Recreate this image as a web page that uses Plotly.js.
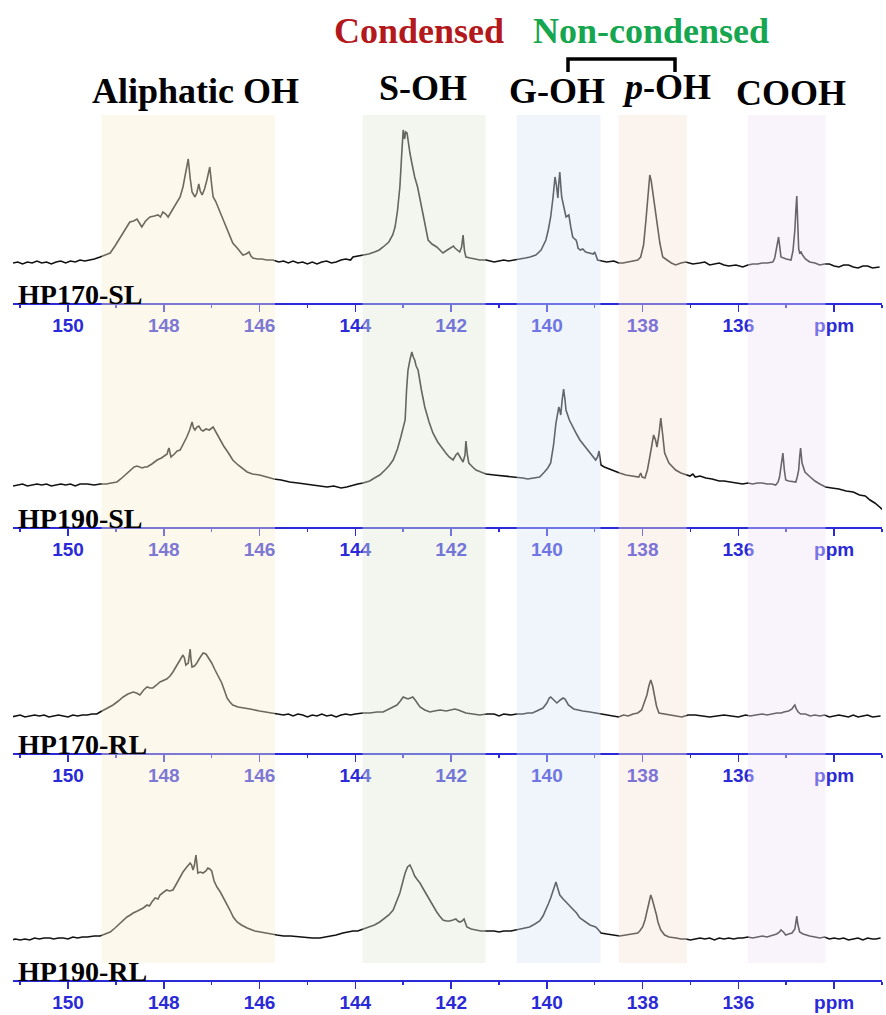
<!DOCTYPE html>
<html><head><meta charset="utf-8">
<script src="https://cdn.plot.ly/plotly-3.0.1.min.js"></script>
<style>html,body{margin:0;padding:0;background:#fff}#chart{width:886px;height:1015px}</style>
</head><body><div id="chart"></div>
<script>
// ---------- data ----------
const sampleNames = ['HP170-SL', 'HP190-SL', 'HP170-RL', 'HP190-RL'];

const ppm1 = [151.15,151.05,150.95,150.85,150.75,150.65,150.55,150.45,150.35,150.25,150.15,150.05,149.95,149.85,149.75,149.65,149.55,149.45,149.33,149.22,149.12,149.02,148.91,148.81,148.71,148.63,148.56,148.51,148.46,148.38,148.29,148.2,148.12,148.07,148.02,147.96,147.91,147.86,147.81,147.74,147.66,147.6,147.56,147.52,147.49,147.45,147.41,147.35,147.31,147.27,147.24,147.20,147.15,147.10,147.04,147.0,146.97,146.92,146.87,146.78,146.68,146.62,146.56,146.45,146.35,146.28,146.22,146.18,146.14,146.05,145.95,145.85,145.72,145.6,145.5,145.4,145.3,145.2,145.1,145.0,144.9,144.8,144.7,144.6,144.5,144.4,144.3,144.2,144.1,144.05,143.95,143.84,143.72,143.6,143.5,143.42,143.3,143.22,143.17,143.12,143.07,143.03,143.0,142.97,142.95,142.92,142.89,142.86,142.82,142.76,142.7,142.61,142.55,142.48,142.4,142.30,142.24,142.17,142.08,142.0,141.95,141.92,141.86,141.82,141.78,141.75,141.72,141.69,141.6,141.5,141.4,141.27,141.18,141.1,141.0,140.9,140.8,140.65,140.55,140.45,140.35,140.23,140.12,140.02,139.97,139.92,139.87,139.83,139.80,139.77,139.75,139.73,139.71,139.69,139.64,139.60,139.57,139.54,139.5,139.46,139.42,139.39,139.37,139.35,139.3,139.25,139.19,139.1,139.03,139.0,138.97,138.94,138.85,138.75,138.6,138.5,138.41,138.3,138.2,138.1,138.04,137.98,137.93,137.89,137.85,137.82,137.80,137.77,137.74,137.72,137.7,137.68,137.64,137.58,137.5,137.4,137.31,137.2,137.1,136.95,136.81,136.7,136.6,136.5,136.4,136.3,136.2,136.05,135.91,135.8,135.7,135.6,135.5,135.4,135.28,135.24,135.22,135.18,135.16,135.13,135.11,135.0,134.90,134.86,134.82,134.8,134.78,134.76,134.74,134.72,134.69,134.66,134.6,134.51,134.4,134.3,134.2,134.1,134.0,133.9,133.8,133.7,133.6,133.5,133.4,133.3,133.2,133.05];
const int1 = [0,1,-1,1,0,2,0,1,-1,1,2,0,2,1,3,2,3,4,6,8,10,17,26,33,41,42,44,40,36,42,46,47,48,46,51,49,46,50,54,60,66,76,86,96,104,85,71,66,70,79,72,68,74,83,96,78,66,62,56,46,33,26,20,14,8,9,11,7,5,4,4,3,3,1,2,0,2,0,1,-1,1,-1,1,2,0,1,3,4,3,6,7,8,9,11,13,16,21,28,36,52,76,110,133,124,131,130,118,110,100,86,76,56,40,23,19,16,13,10,13,16,17,15,12,11,16,28,12,6,5,4,3,3,2,1,2,3,2,3,4,5,6,8,13,23,33,46,66,86,78,65,80,91,78,66,55,46,47,48,36,26,24,23,20,15,13,14,11,10,9,11,6,3,2,1,2,0,0,1,2,3,6,18,43,70,88,82,75,63,58,50,44,36,20,6,3,0,-2,0,1,-1,0,1,-2,-1,0,-2,-3,-2,-4,-2,-1,-1,0,0,1,5,11,22,26,14,6,4,3,12,33,52,67,40,14,10,11,8,4,1,0,-2,-1,-1,-3,-4,-2,-2,-4,-5,-3,-3,-5,-4];

const ppm2 = [151.15,151.05,150.95,150.85,150.75,150.65,150.55,150.45,150.35,150.25,150.15,150.05,149.95,149.85,149.75,149.6,149.45,149.33,149.2,149.1,148.98,148.9,148.8,148.7,148.62,148.56,148.5,148.45,148.4,148.35,148.25,148.14,148.05,147.98,147.93,147.91,147.89,147.87,147.85,147.78,147.72,147.66,147.6,147.52,147.46,147.41,147.38,147.35,147.31,147.27,147.22,147.18,147.12,147.05,146.97,146.9,146.83,146.75,146.65,146.56,146.45,146.35,146.26,146.15,146.0,145.85,145.7,145.55,145.37,145.2,145.05,144.9,144.75,144.59,144.45,144.3,144.18,144.05,143.95,143.84,143.7,143.6,143.49,143.38,143.3,143.21,143.12,143.05,142.99,142.96,142.93,142.90,142.86,142.82,142.79,142.76,142.73,142.69,142.62,142.55,142.46,142.38,142.28,142.17,142.11,142.04,141.96,141.9,141.86,141.8,141.75,141.71,141.69,141.66,141.63,141.55,141.48,141.38,141.27,141.1,140.9,140.8,140.65,140.5,140.4,140.3,140.15,140.05,139.98,139.92,139.86,139.81,139.78,139.75,139.73,139.71,139.68,139.65,139.62,139.60,139.53,139.46,139.38,139.31,139.2,139.10,139.04,138.98,138.94,138.91,138.89,138.87,138.8,138.7,138.6,138.48,138.35,138.2,138.08,138.04,138.01,137.95,137.9,137.85,137.8,137.77,137.73,137.70,137.66,137.62,137.58,137.54,137.45,137.38,137.31,137.2,137.1,137.01,136.95,136.9,136.8,136.68,136.55,136.4,136.3,136.15,136.0,135.91,135.8,135.7,135.6,135.5,135.4,135.3,135.22,135.17,135.14,135.1,135.07,135.04,135.01,134.95,134.86,134.80,134.77,134.74,134.72,134.70,134.67,134.63,134.61,134.5,134.4,134.3,134.18,134.05,133.9,133.75,133.6,133.47,133.35,133.25,133.15,133.05,132.98];
const int2 = [-1,0,1,-1,0,1,0,1,-1,0,1,0,1,-1,1,1,0,1,1,2,3,6,10,14,18,19,18,17,18,18,21,25,27,29,31,35,37,32,28,31,34,35,40,48,55,63,57,55,58,59,55,54,56,55,58,52,45,39,32,25,20,16,13,11,10,8,6,5,3,2,1,0,-1,-2,-1,-3,-2,0,1,2,4,7,10,15,19,25,36,48,60,65,95,115,125,133,128,125,119,115,95,78,63,52,43,35,32,28,25,30,32,27,23,30,44,30,22,18,15,13,11,10,9,9,8,7,6,7,8,13,17,22,40,62,70,78,75,70,85,96,85,75,65,58,51,45,38,32,28,25,28,34,27,20,18,16,14,12,10,9,8,12,8,7,15,28,42,50,45,38,50,67,50,32,22,18,15,12,10,9,11,8,9,7,6,4,4,3,2,1,2,1,2,2,1,1,0,3,8,20,32,15,5,4,3,3,8,15,28,37,22,16,13,8,4,1,-2,-3,-4,-6,-7,-10,-11,-15,-18,-22,-25];

const ppm3 = [151.19,151.1,151.0,150.9,150.8,150.7,150.6,150.5,150.4,150.3,150.2,150.1,150.0,149.9,149.8,149.7,149.6,149.5,149.4,149.33,149.2,149.06,148.95,148.85,148.75,148.64,148.57,148.5,148.42,148.35,148.29,148.23,148.15,148.08,147.94,147.87,147.81,147.74,147.66,147.6,147.57,147.54,147.49,147.47,147.45,147.43,147.41,147.36,147.31,147.25,147.18,147.12,147.08,147.0,146.93,146.86,146.79,146.73,146.68,146.62,146.56,146.45,146.3,146.2,146.0,145.85,145.75,145.64,145.5,145.4,145.3,145.2,145.1,145.0,144.9,144.8,144.7,144.6,144.5,144.4,144.3,144.2,144.1,144.0,143.84,143.7,143.55,143.42,143.3,143.2,143.13,143.06,143.0,142.95,142.90,142.85,142.80,142.75,142.7,142.65,142.55,142.44,142.35,142.23,142.1,142.0,141.92,141.85,141.75,141.69,141.55,141.4,141.25,141.1,141.0,140.9,140.75,140.63,140.5,140.4,140.3,140.2,140.08,140.0,139.95,139.92,139.86,139.79,139.72,139.66,139.62,139.55,139.44,139.35,139.25,139.1,138.96,138.85,138.7,138.6,138.50,138.4,138.3,138.2,138.1,138.02,137.97,137.91,137.87,137.83,137.79,137.75,137.71,137.66,137.55,137.4,137.3,137.18,137.05,136.9,136.75,136.6,136.45,136.3,136.15,136.0,135.85,135.75,135.64,135.5,135.4,135.3,135.2,135.1,135.05,134.95,134.88,134.84,134.82,134.79,134.75,134.70,134.6,134.5,134.4,134.3,134.2,134.1,134.0,133.9,133.8,133.7,133.6,133.5,133.4,133.3,133.2,133.1,133.03];
const int3 = [-1,0,1,-1,0,1,0,1,-1,0,1,0,-1,1,0,1,1,2,2,4,7,11,15,19,22,24,23,21,26,29,28,28,31,34,37,40,44,50,56,61,58,51,53,60,67,55,49,50,53,58,63,62,59,53,46,40,33,25,18,14,11,9,8,7,5,4,3,2,1,2,0,2,1,-1,1,0,2,0,1,-1,1,2,1,2,3,3,4,4,7,9,11,15,19,18,17,18,19,16,12,9,6,4,5,6,5,6,7,6,4,3,2,1,2,2,0,2,1,2,2,3,3,5,8,13,18,19,16,13,16,18,17,11,7,6,5,4,3,2,1,0,-1,1,0,2,3,6,12,21,30,36,30,19,10,3,2,1,0,-1,1,1,0,-1,0,1,0,-1,1,0,1,2,1,2,3,3,4,5,7,10,11,7,4,2,2,0,1,0,1,-1,0,1,0,-1,1,-1,0,1,-1,0,0];

const ppm4 = [151.19,151.1,151.0,150.9,150.8,150.7,150.6,150.5,150.38,150.3,150.2,150.1,150.0,149.9,149.8,149.7,149.6,149.45,149.33,149.22,149.12,149.02,148.91,148.84,148.77,148.7,148.64,148.55,148.43,148.35,148.3,148.25,148.18,148.12,148.08,148.0,147.94,147.88,147.81,147.75,147.66,147.6,147.52,147.45,147.42,147.39,147.36,147.33,147.31,147.29,147.24,147.18,147.12,147.08,147.04,147.0,146.95,146.89,146.82,146.76,146.7,146.62,146.55,146.47,146.38,146.26,146.1,145.95,145.85,145.75,145.64,145.5,145.35,145.16,145.0,144.9,144.74,144.6,144.5,144.4,144.26,144.15,144.05,143.95,143.84,143.7,143.6,143.49,143.4,143.3,143.21,143.14,143.07,143.01,142.96,142.91,142.86,142.81,142.76,142.7,142.65,142.58,142.51,142.44,142.38,142.3,142.24,142.17,142.1,142.03,141.96,141.90,141.86,141.82,141.77,141.73,141.7,141.67,141.58,141.48,141.38,141.27,141.1,141.0,140.9,140.75,140.65,140.5,140.36,140.25,140.15,140.08,140.02,139.97,139.92,139.86,139.81,139.78,139.73,139.66,139.60,139.53,139.46,139.38,139.31,139.25,139.19,139.1,139.04,138.98,138.92,138.87,138.75,138.6,138.48,138.35,138.2,138.1,138.06,138.0,137.95,137.91,137.89,137.86,137.83,137.8,137.75,137.71,137.68,137.62,137.54,137.45,137.3,137.2,137.1,137.0,136.9,136.8,136.7,136.6,136.5,136.4,136.3,136.2,136.1,136.0,135.91,135.8,135.7,135.6,135.5,135.4,135.28,135.2,135.14,135.11,135.06,135.01,134.95,134.88,134.82,134.8,134.78,134.76,134.72,134.65,134.6,134.51,134.4,134.3,134.2,134.1,134.0,133.9,133.8,133.7,133.6,133.5,133.4,133.3,133.2,133.13,133.03];
const int4 = [-1,0,-1,0,-1,1,0,1,1,0,1,1,0,2,1,2,2,3,3,5,7,11,16,19,22,24,26,28,31,34,33,37,41,40,44,47,49,48,49,54,62,67,72,76,74,69,74,84,76,66,67,66,68,71,70,68,58,52,47,42,36,29,22,17,14,11,8,7,6,5,4,3,3,2,1,1,1,2,3,4,6,7,8,8,10,12,14,17,20,24,29,37,46,57,66,72,74,69,63,59,56,50,44,38,33,27,23,19,18,18,19,20,18,17,18,20,16,12,10,9,8,8,8,7,8,8,9,10,12,15,18,23,29,35,41,50,57,52,44,40,37,34,31,26,21,19,17,14,13,12,9,6,5,4,3,4,5,6,8,12,19,28,34,40,44,40,32,24,17,9,4,2,1,0,0,-1,0,1,0,1,-1,1,0,1,0,1,1,2,1,2,3,2,4,5,7,9,7,4,5,6,10,16,23,15,7,5,4,3,2,1,2,0,1,0,1,-1,0,1,-1,1,0,0,1];

const bandNames  = ['Aliphatic OH', 'S-OH', 'G-OH', 'p-OH', 'COOH'];
const bandStart  = [149.30, 143.85, 140.63, 138.50, 135.80];
const bandEnd    = [145.68, 141.28, 138.88, 137.08, 134.18];

const tickVals  = [150, 148, 146, 144, 142, 140, 138, 136, 134];
const tickText  = ['150', '148', '146', '144', '142', '140', '138', '136', 'ppm'];
const minorVals = [151, 149, 147, 145, 143, 141, 139, 137, 135, 133];

// ---------- layout helpers ----------
const W = 886, H = 1015, ML = 13, MR = 4;
const PW = W - ML - MR;
const px = x => (x - ML) / PW, py = y => 1 - y / H;
const axisY = [303, 527, 753, 980];
const baseY = [263, 485, 716, 939];
const topY  = [120, 340, 560, 770];
const bandFill = ['rgb(250,238,208)', 'rgb(222,232,212)', 'rgb(215,230,242)', 'rgb(245,225,212)', 'rgb(240,227,247)'];
const blue = '#2a2ad8';

const ppms = [ppm1, ppm2, ppm3, ppm4];
const ints = [int1, int2, int3, int4];

const traces = ppms.map((p, i) => ({
  x: p, y: ints[i], type: 'scatter', mode: 'lines',
  line: {color: '#111', width: 1.6},
  xaxis: i === 0 ? 'x' : 'x' + (i + 1),
  yaxis: i === 0 ? 'y' : 'y' + (i + 1),
  hoverinfo: 'skip', showlegend: false
}));

const layout = {
  width: W, height: H,
  margin: {l: ML, r: MR, t: 0, b: 0},
  paper_bgcolor: '#fff', plot_bgcolor: 'rgba(0,0,0,0)',
  showlegend: false,
  shapes: [], annotations: []
};

for (let i = 0; i < 4; i++) {
  const s = i === 0 ? '' : String(i + 1);
  layout['xaxis' + s] = {
    range: [151.15, 133.0], anchor: 'y' + s, domain: [0, 1],
    showgrid: false, zeroline: false, showline: true,
    linecolor: blue, linewidth: 2,
    ticks: 'outside', ticklen: 7, tickwidth: 1.5, tickcolor: blue,
    tickmode: 'array', tickvals: tickVals, ticktext: tickText,
    ticklabelstandoff: -3,
    tickfont: {family: 'Liberation Sans, Arial, sans-serif', size: 19, color: blue, weight: 'bold'},
    minor: {tickmode: 'array', tickvals: minorVals, ticks: 'outside', ticklen: 3, tickwidth: 1.5, tickcolor: blue, showgrid: false},
    fixedrange: true
  };
  layout['yaxis' + s] = {
    range: [-(axisY[i] - baseY[i]), baseY[i] - topY[i]],
    domain: [py(axisY[i]), py(topY[i])],
    anchor: 'x' + s, visible: false, fixedrange: true
  };
  layout.annotations.push({
    text: '<b>' + sampleNames[i] + '</b>', xref: 'paper', yref: 'paper',
    x: px(16), y: py(axisY[i] - 9), xanchor: 'left', yanchor: 'middle',
    showarrow: false, font: {family: 'Liberation Serif, Times New Roman, serif', size: 28, color: '#000'}
  });
}

// shaded bands (drawn over the traces, semi-transparent)
bandNames.forEach((n, k) => {
  layout.shapes.push({
    type: 'rect', xref: 'x', yref: 'paper',
    x0: bandStart[k], x1: bandEnd[k], y0: py(963), y1: py(115),
    fillcolor: bandFill[k], opacity: 0.4, line: {width: 0}, layer: 'above'
  });
});

// headings
const headX = [195, 423, 557, 666, 791];
const headY = [91, 88, 91, 87, 93];
const headHtml = ['<b>Aliphatic OH</b>', '<b>S-OH</b>', '<b>G-OH</b>', '<b><i>p</i>-OH</b>', '<b>COOH</b>'];
headHtml.forEach((t, k) => {
  layout.annotations.push({
    text: t, xref: 'paper', yref: 'paper', x: px(headX[k]), y: py(headY[k]),
    xanchor: 'center', yanchor: 'middle', showarrow: false,
    font: {family: 'Liberation Serif, Times New Roman, serif', size: 36, color: '#000'}
  });
});
layout.annotations.push({
  text: '<b>Condensed</b>', xref: 'paper', yref: 'paper', x: px(419), y: py(31),
  xanchor: 'center', yanchor: 'middle', showarrow: false,
  font: {family: 'Liberation Serif, Times New Roman, serif', size: 36, color: '#b3191c'}
});
layout.annotations.push({
  text: '<b>Non-condensed</b>', xref: 'paper', yref: 'paper', x: px(651), y: py(31),
  xanchor: 'center', yanchor: 'middle', showarrow: false,
  font: {family: 'Liberation Serif, Times New Roman, serif', size: 36, color: '#16a650'}
});
// bracket joining G-OH and p-OH
layout.shapes.push({
  type: 'path', xref: 'paper', yref: 'paper',
  path: `M ${px(568)} ${py(72)} L ${px(568)} ${py(59)} L ${px(675)} ${py(59)} L ${px(675)} ${py(72)}`,
  line: {color: '#000', width: 3.5}, layer: 'above'
});

Plotly.newPlot('chart', traces, layout, {staticPlot: true, displayModeBar: false});
</script>
</body></html>
